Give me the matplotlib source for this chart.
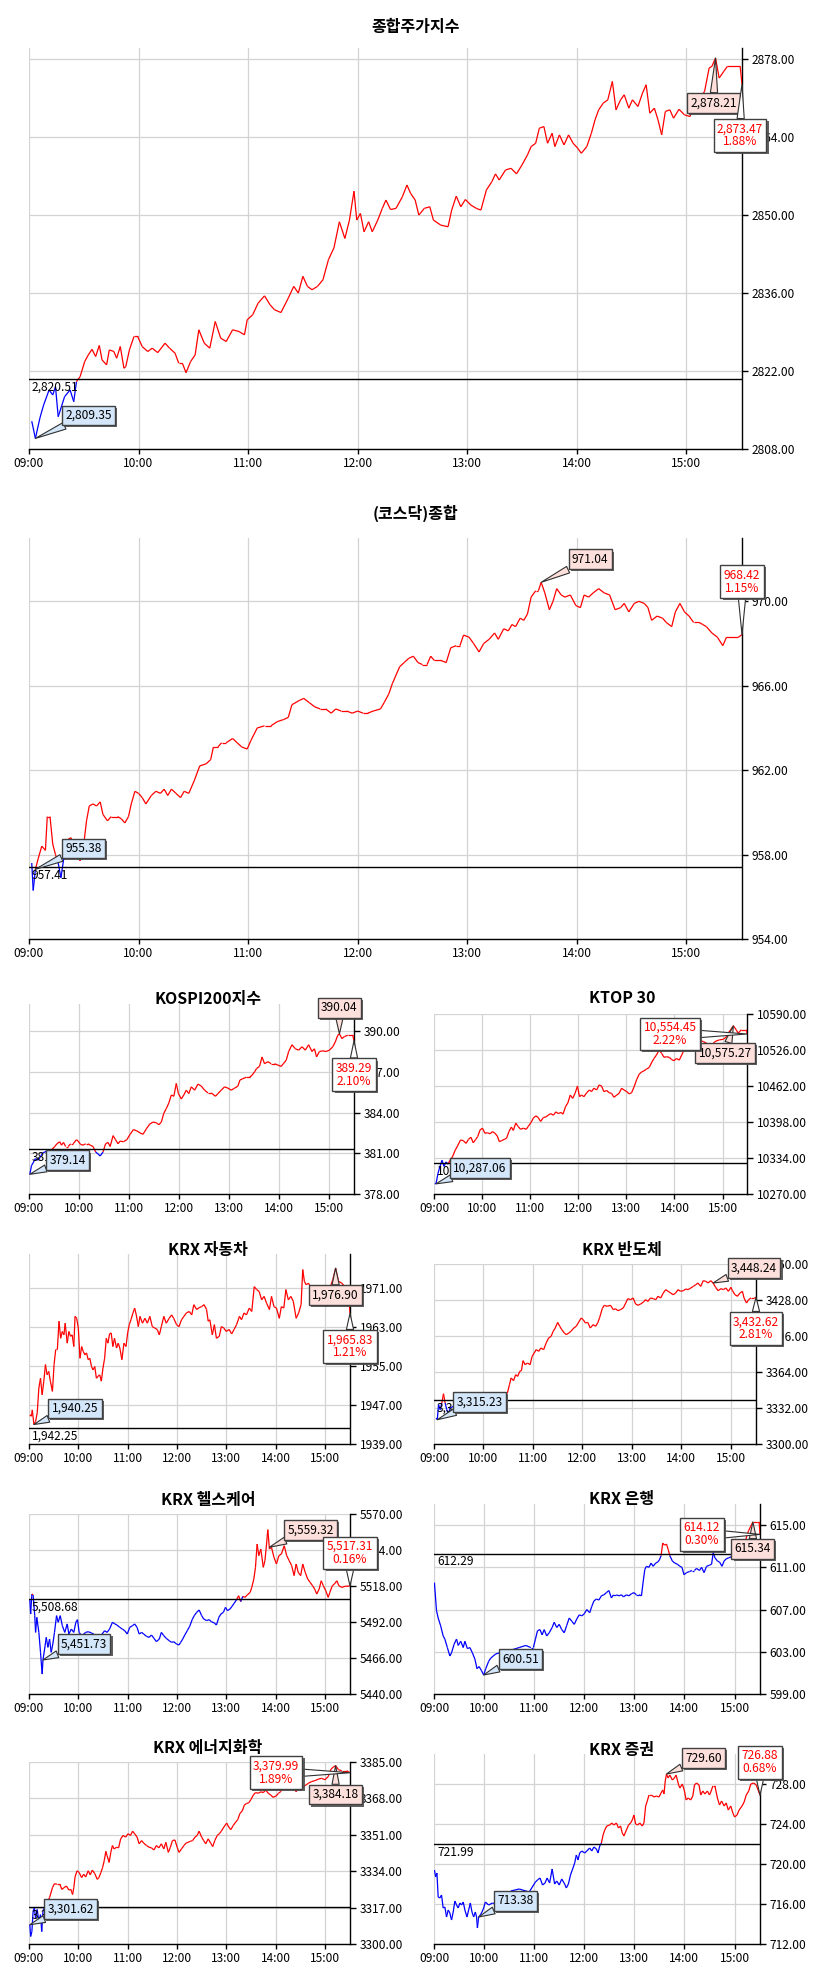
import numpy as np
import matplotlib.pyplot as plt
from matplotlib.collections import LineCollection
from matplotlib import patheffects as pe

plt.rcParams['font.family'] = ['Noto Sans CJK KR', 'DejaVu Sans']

W, H = 833, 1970
HOURS = ['09:00', '10:00', '11:00', '12:00', '13:00', '14:00', '15:00']

# ---- data: (minutes after 09:00, index value) ----
kospi = [(1.5, 2813.0), (3.5, 2809.9), (6, 2813.6), (8, 2815.9), (11, 2818.6), (13, 2817.7),
         (14.5, 2819.2), (16, 2813.8), (19.5, 2817.4), (22.5, 2818.6), (24.5, 2816.5), (26, 2820.1),
         (28, 2821.0), (30.5, 2823.7), (32.5, 2824.9), (34.5, 2825.9), (36.5, 2824.6), (38.5, 2826.6),
         (40, 2824.0), (42.5, 2823.1), (44, 2825.8), (46.5, 2825.5), (48, 2824.3), (50, 2826.4),
         (52, 2822.5), (53, 2822.8), (55, 2825.8), (57.5, 2828.2), (59.5, 2828.2), (62, 2826.4),
         (65, 2825.5), (67.5, 2826.1), (70.5, 2825.3), (74.5, 2827.0), (77, 2826.1), (80, 2825.2),
         (82, 2823.4), (84, 2823.4), (86, 2821.7), (88.5, 2823.7), (91, 2824.9), (93, 2829.4),
         (96, 2827.0), (99, 2826.1), (102, 2830.9), (105, 2827.9), (108, 2827.3), (111.5, 2829.4),
         (115, 2829.1), (118, 2828.5), (119.5, 2831.2), (122.5, 2832.1), (125.5, 2834.2), (129, 2835.5),
         (132, 2833.9), (134.5, 2833.0), (138, 2832.5), (142, 2835.1), (145, 2837.2), (147.5, 2836.0),
         (150, 2839.0), (152.5, 2837.2), (155, 2836.6), (158, 2837.2), (161, 2838.4), (164, 2842.0),
         (167, 2844.1), (170, 2848.8), (173, 2845.8), (175.5, 2849.1), (178, 2854.3), (179.5, 2849.1),
         (181.5, 2850.3), (183.5, 2847.0), (186, 2848.8), (188, 2847.0), (191, 2849.1), (193.5, 2851.2),
         (195.5, 2852.7), (198, 2851.0), (201, 2851.2), (204.5, 2853.3), (207, 2855.4), (209, 2853.9),
         (211.5, 2852.7), (213.5, 2850.0), (216.5, 2851.2), (219.5, 2851.5), (221.5, 2849.1), (225.5, 2848.2),
         (229.5, 2847.9), (231.5, 2850.9), (234, 2853.4), (236.5, 2851.5), (239, 2852.8), (242, 2851.8),
         (245, 2851.2), (247.5, 2850.9), (250.5, 2854.5), (253.5, 2856.0), (255.5, 2857.4), (257.5, 2856.3),
         (261, 2858.1), (264, 2858.4), (267, 2857.4), (270, 2859.0), (273, 2860.8), (275, 2862.3),
         (277.5, 2862.9), (279.5, 2865.6), (282, 2865.9), (284, 2862.9), (286.5, 2864.7), (288, 2862.3),
         (290.5, 2864.4), (293, 2862.6), (295.5, 2864.4), (298, 2862.9), (300.5, 2862.0), (302.5, 2861.1),
         (305.5, 2862.3), (308, 2864.7), (310, 2867.1), (312, 2868.9), (314.5, 2870.1), (317, 2870.7),
         (319.5, 2874.0), (321.5, 2868.9), (324, 2870.7), (326, 2871.6), (328.5, 2869.2), (330.5, 2870.7),
         (333.5, 2869.5), (336, 2871.9), (338, 2873.4), (340, 2868.3), (342.5, 2869.2), (344.5, 2867.1),
         (346.5, 2864.4), (348.5, 2868.6), (351, 2868.9), (353, 2867.4), (356, 2869.0), (359, 2868.0),
         (362, 2867.7), (364, 2869.2), (367, 2870.7), (370, 2872.2), (372.5, 2876.4), (374, 2876.7),
         (376, 2878.2), (378, 2874.6), (380.5, 2875.8), (382.5, 2876.7), (389.5, 2876.7), (390.5, 2873.47)]
kospi_prev = 2820.51
kospi_marks = [(3.5, 2809.9, '2,809.35'), (376, 2878.2, '2,878.21'), (390.5, 2873.47, '2,873.47\n1.88%')]

kosdaq = [(1.5, 957.6), (2.3, 956.3), (3.5, 957.3), (5, 957.8), (7, 958.4), (9, 958.2), (10, 959.8),
          (11.5, 959.8), (13, 958.5), (14.5, 958.0), (16, 957.6), (17.5, 956.9), (19, 957.8), (21, 958.7),
          (23, 958.8), (25.5, 958.2), (28, 957.7), (30, 958.5), (31.5, 959.6), (33, 960.3), (35, 960.4),
          (37, 960.3), (39, 960.5), (40.5, 959.9), (43, 959.6), (45, 959.8), (48.5, 959.8), (50.5, 959.7),
          (52.5, 959.5), (54.5, 959.8), (56, 960.4), (58, 961.0), (60, 960.9), (62, 960.7), (64, 960.4),
          (67, 960.8), (69.5, 961.0), (72, 960.9), (74, 961.1), (76, 960.8), (78, 961.1), (80.5, 960.9),
          (83, 960.7), (85, 961.0), (87.5, 960.9), (90.5, 961.5), (93.5, 962.2), (97, 962.3), (99.5, 962.5),
          (101, 963.1), (103.5, 963.1), (105.5, 963.3), (108, 963.3), (111.5, 963.5), (114, 963.3),
          (116.5, 963.1), (119.5, 963.0), (121.5, 963.4), (125, 964.0), (129, 964.1), (132.5, 964.1),
          (136, 964.3), (139.5, 964.4), (142, 964.5), (144, 965.1), (148, 965.3), (150.5, 965.4),
          (153.5, 965.2), (156.5, 965.0), (159.5, 964.9), (162.5, 964.9), (165.5, 964.7), (168, 964.9),
          (171, 964.8), (174, 964.8), (177, 964.7), (180, 964.8), (183, 964.7), (185.5, 964.7),
          (188.5, 964.8), (192.5, 964.9), (194.5, 965.2), (197, 965.6), (199, 966.1), (201, 966.5),
          (203, 966.9), (205.5, 967.1), (208, 967.3), (210.5, 967.4), (213, 967.1), (215.5, 967.0),
          (218, 967.0), (220, 967.4), (222, 967.2), (225.5, 967.2), (228.5, 967.1), (231, 967.8),
          (234, 967.9), (236, 967.9), (238, 968.4), (241, 968.3), (243.5, 968.0), (246.5, 967.6),
          (249, 968.0), (252, 968.2), (255, 968.5), (257, 968.2), (260, 968.7), (262.5, 968.6),
          (264.5, 968.9), (266.5, 968.8), (269, 969.2), (271, 969.1), (273, 969.4), (275, 970.2),
          (277.5, 970.5), (279, 970.5), (280.5, 970.9), (282.5, 970.4), (285, 969.6), (287, 970.0),
          (289, 970.6), (291.5, 970.3), (293.5, 970.2), (296.5, 970.3), (299.5, 969.8), (302, 969.7),
          (304, 970.3), (306.5, 970.2), (309, 970.4), (312, 970.6), (315, 970.4), (318, 970.3),
          (321, 969.6), (324, 969.7), (326, 969.9), (328.5, 969.5), (331.5, 969.9), (334, 970.0),
          (337, 969.9), (339, 969.7), (341, 969.1), (344, 969.3), (347, 969.2), (349, 969.0),
          (352, 968.8), (354, 969.5), (356.5, 969.9), (359, 969.5), (361.5, 969.3), (364, 969.0),
          (367, 969.0), (369, 968.9), (371, 968.8), (374, 968.5), (377, 968.3), (380, 967.9),
          (382, 968.3), (388.5, 968.3), (390.5, 968.42)]
kosdaq_prev = 957.41
kosdaq_marks = [(3.5, 957.3, '955.38'), (280.5, 970.9, '971.04'), (390.5, 968.42, '968.42\n1.15%')]

k200 = [(1, 379.45), (3, 380.1), (5, 380.3), (7.5, 380.6), (11, 380.5), (13.5, 380.7), (16, 381.0),
        (19, 381.1), (23, 381.2), (27, 381.25), (31, 381.5), (33.5, 381.7), (37, 381.85), (39, 381.6),
        (41.5, 381.8), (44, 381.5), (47, 381.5), (50, 381.7), (53, 381.7), (57, 382.0), (59, 381.9),
        (62, 381.65), (65, 381.6), (68, 381.7), (71, 381.7), (73.5, 381.6), (77, 381.5), (80, 381.1),
        (83, 380.95), (85.5, 380.8), (89, 381.1), (92, 381.7), (95, 381.8), (97.5, 381.5), (101, 382.3),
        (104, 382.0), (107, 381.7), (109.5, 381.9), (113.5, 381.85), (117.5, 382.0), (121.5, 382.4),
        (125.5, 382.75), (129.5, 382.65), (133.5, 382.5), (137, 382.4), (141, 382.8), (145, 383.15),
        (149, 383.3), (153, 383.25), (156, 383.1), (159, 383.3), (162, 383.95), (165, 384.3),
        (168, 384.7), (171, 385.3), (174, 385.2), (177, 386.15), (179.5, 385.4), (183, 385.0),
        (186, 385.3), (189, 385.65), (192, 385.4), (195, 385.9), (199, 385.65), (203, 386.1),
        (207, 385.95), (211, 385.65), (215, 385.45), (219, 385.45), (224, 385.2), (227, 385.4),
        (231, 385.65), (235, 385.9), (239, 385.8), (243, 385.65), (247, 385.8), (251, 385.95),
        (253.5, 386.4), (257, 386.5), (261, 386.6), (265, 386.6), (268, 386.75), (271, 387.0),
        (273.5, 387.25), (277, 387.4), (280, 388.1), (283, 387.6), (287, 387.75), (291, 387.6),
        (295, 387.6), (299, 387.5), (303, 387.4), (305.5, 387.6), (309, 387.85), (312, 388.5),
        (316, 389.0), (320, 388.7), (324, 388.6), (328, 388.85), (332, 388.6), (336, 389.0),
        (340, 388.5), (343, 388.7), (345.5, 388.1), (349, 388.5), (353, 388.55), (357, 388.5),
        (361, 388.6), (365, 388.85), (368, 389.2), (371, 389.7), (373, 389.8), (376, 389.45),
        (379, 389.6), (383, 389.7), (389, 389.7), (390.5, 389.29)]
k200_prev = 381.28
k200_marks = [(1, 379.45, '379.14'), (373, 389.8, '390.04'), (390.5, 389.29, '389.29\n2.10%')]

ktop = [(1, 10289), (2.5, 10288), (5, 10307), (7.5, 10319), (10, 10330), (12.5, 10319), (15, 10327),
        (17.5, 10323), (20, 10330), (23, 10336), (26.5, 10348), (30, 10357), (33, 10366), (36.5, 10365),
        (40, 10360), (43, 10367), (46, 10371), (49, 10361), (52, 10367), (54.5, 10372), (57.5, 10384),
        (60.5, 10387), (63.5, 10378), (66.5, 10379), (70, 10377), (73, 10381), (76, 10378), (79, 10373),
        (81.5, 10363), (84.5, 10365), (87.5, 10367), (90.5, 10369), (93.5, 10381), (96.5, 10389),
        (99, 10383), (102, 10396), (105, 10390), (108, 10385), (111.5, 10387), (115, 10385),
        (117.5, 10390), (121, 10397), (124, 10405), (127, 10409), (130, 10406), (133, 10399),
        (136.5, 10406), (139.5, 10407), (142.5, 10410), (145.5, 10413), (149, 10410), (152, 10416),
        (155, 10413), (158.5, 10415), (161, 10412), (164, 10425), (167, 10432), (170, 10446),
        (173, 10440), (176, 10449), (179, 10462), (181.5, 10443), (184, 10446), (187, 10443),
        (190.5, 10450), (194, 10455), (196.5, 10452), (199.5, 10458), (203, 10455), (206, 10464),
        (209, 10462), (212, 10452), (215.5, 10454), (218.5, 10450), (221.5, 10449), (224.5, 10442),
        (228, 10446), (231, 10449), (234, 10458), (237, 10455), (240.5, 10452), (243.5, 10448),
        (246.5, 10450), (249.5, 10460), (253, 10474), (256, 10483), (259, 10487), (262, 10489),
        (265, 10492), (268.5, 10495), (272, 10505), (274.5, 10511), (277.5, 10517), (281, 10526),
        (284, 10520), (287, 10513), (290, 10514), (293.5, 10513), (296.5, 10509), (299.5, 10507),
        (302.5, 10511), (306, 10508), (309, 10517), (312, 10526), (317, 10535), (323.5, 10541),
        (330, 10544), (336, 10541), (340, 10538), (345, 10532), (350.5, 10541), (356, 10544),
        (361, 10545), (364.5, 10549), (367, 10556), (370, 10562), (373.5, 10569), (377, 10562),
        (379.5, 10556), (383.5, 10562), (390, 10562), (390.5, 10554.45)]
ktop_prev = 10325.24
ktop_marks = [(2.5, 10288, '10,287.06'), (373.5, 10569, '10,575.27'), (390.5, 10554.45, '10,554.45\n2.22%')]

auto = [(1, 1945.0), (3, 1944.7), (4, 1946.0), (6, 1943.0), (8, 1943.6), (10, 1945.4), (12, 1950.5),
        (14, 1952.5), (16, 1949.1), (18, 1951.9), (20, 1955.3), (22, 1953.2), (24, 1953.9), (26, 1951.9),
        (28.5, 1949.8), (30.5, 1955.3), (32.5, 1958.4), (34.5, 1958.4), (36.5, 1964.2), (38.5, 1960.7),
        (40.5, 1962.1), (42.5, 1961.4), (44, 1963.8), (46.5, 1959.7), (48.5, 1962.1), (50.5, 1961.1),
        (52.5, 1961.4), (54.5, 1959.0), (56, 1965.2), (58, 1964.8), (60, 1962.8), (62, 1956.6),
        (64, 1959.0), (66, 1958.0), (68, 1957.3), (70, 1957.7), (72, 1956.3), (74, 1956.6), (76, 1954.9),
        (78, 1954.2), (80, 1954.9), (82, 1952.5), (84, 1952.9), (86, 1953.2), (88, 1951.9), (90, 1954.6),
        (92, 1956.6), (94, 1960.7), (96, 1959.7), (98, 1961.6), (100, 1961.8), (102, 1959.0),
        (104, 1960.7), (106.5, 1958.7), (108.5, 1959.7), (110.5, 1958.7), (113, 1956.3), (115.5, 1959.7),
        (118, 1959.0), (120, 1961.8), (122, 1963.5), (124, 1964.5), (126.5, 1965.9), (128.5, 1966.9),
        (130.5, 1965.5), (133, 1963.1), (135, 1965.2), (138, 1963.8), (141, 1964.8), (144, 1963.8),
        (147, 1965.2), (150, 1963.1), (153, 1962.8), (156, 1962.5), (158.5, 1961.4), (161, 1963.1),
        (164, 1965.2), (167, 1963.8), (170.5, 1964.8), (173.5, 1965.5), (176, 1964.8), (179.5, 1963.5),
        (182.5, 1963.1), (185.5, 1964.5), (188.5, 1965.2), (191.5, 1965.9), (195, 1966.2), (198, 1965.5),
        (200.5, 1967.6), (204, 1966.6), (207, 1967.0), (210, 1967.2), (213, 1967.6), (216, 1966.6),
        (218, 1964.2), (220, 1964.5), (223, 1961.4), (225.5, 1963.5), (228, 1960.7), (231.5, 1961.1),
        (234, 1963.1), (237, 1962.8), (240, 1962.1), (243.5, 1962.5), (246.5, 1961.6), (249.5, 1962.5),
        (252.5, 1963.5), (256, 1965.2), (258.5, 1964.5), (261.5, 1965.9), (264.5, 1965.5), (268, 1966.9),
        (271, 1966.2), (274, 1971.3), (277, 1970.7), (280, 1970.3), (283, 1968.6), (286, 1969.3),
        (289, 1967.9), (292.5, 1966.6), (295, 1969.3), (298, 1967.2), (301, 1966.9), (304.5, 1964.8),
        (307, 1967.2), (310, 1966.9), (312.5, 1970.7), (315.5, 1968.6), (318.5, 1969.3), (321.5, 1968.3),
        (325, 1964.8), (328, 1965.9), (331, 1967.6), (333, 1974.8), (335, 1972.4), (337, 1971.7),
        (340, 1972.0), (346, 1970.3), (352, 1969.6), (358, 1968.9), (362, 1967.2), (366, 1971.0),
        (369.5, 1972.7), (373, 1975.1), (376.5, 1972.4), (380.5, 1972.0), (384.5, 1971.3), (388, 1971.0),
        (390.5, 1965.83)]
auto_prev = 1942.25
auto_marks = [(6, 1943.0, '1,940.25'), (373, 1975.1, '1,976.90'), (390.5, 1965.83, '1,965.83\n1.21%')]

semi = [(2.5, 3323.1), (4, 3321.6), (5.5, 3335.0), (7.5, 3330.5), (9.5, 3336.4), (11.5, 3344.7),
        (13.5, 3336.4), (15.5, 3330.5), (17.5, 3326.1), (19.5, 3332.0), (27.5, 3335.0), (35.5, 3337.9),
        (44, 3339.4), (54, 3338.5), (64, 3337.9), (74, 3339.4), (82, 3344.7), (89, 3345.3), (91.5, 3352.7),
        (93.5, 3358.7), (96.5, 3356.3), (99, 3361.6), (101.5, 3360.1), (104, 3364.6), (106, 3365.2),
        (108, 3374.1), (110.5, 3370.5), (113.5, 3372.0), (116.5, 3370.5), (119, 3377.9), (121.5, 3380.9),
        (124, 3383.9), (127, 3382.4), (129.5, 3385.3), (133, 3383.9), (136, 3389.8), (139, 3394.2),
        (142, 3395.7), (144.5, 3400.1), (147, 3403.1), (150, 3408.1), (152.5, 3404.6), (155, 3401.6),
        (158, 3398.7), (160.5, 3397.2), (163.5, 3398.7), (166, 3400.1), (169.5, 3403.1), (172.5, 3404.6),
        (175.5, 3408.4), (178.5, 3412.0), (181, 3410.5), (183.5, 3407.6), (186.5, 3408.1), (189.5, 3403.1),
        (193, 3406.1), (196, 3404.6), (198.5, 3407.6), (201, 3412.6), (204, 3420.3), (206.5, 3423.3),
        (210, 3422.4), (214, 3423.3), (217.5, 3419.4), (220, 3420.3), (223, 3418.5), (226, 3419.4),
        (229.5, 3420.9), (232.5, 3425.3), (235, 3429.2), (238.5, 3428.3), (241.5, 3429.8), (244.5, 3424.4),
        (247.5, 3423.3), (250.5, 3424.4), (254, 3426.2), (256.5, 3428.3), (259.5, 3426.8), (262.5, 3429.8),
        (266, 3429.2), (269, 3428.3), (271.5, 3431.3), (275, 3429.8), (278, 3434.2), (281, 3437.2),
        (284, 3435.7), (287, 3434.2), (290, 3432.7), (293, 3434.2), (296, 3437.2), (299, 3435.7),
        (302.5, 3436.3), (305.5, 3437.8), (308, 3437.2), (311.5, 3438.7), (314.5, 3440.1), (317.5, 3441.6),
        (320, 3443.1), (323.5, 3440.1), (326.5, 3445.2), (329.5, 3444.6), (332.5, 3443.1), (335.5, 3445.2),
        (338.5, 3443.1), (341.5, 3439.3), (344.5, 3436.3), (348, 3438.1), (351, 3437.2), (354, 3438.7),
        (357, 3435.7), (360, 3439.3), (362, 3436.3), (365, 3432.7), (368, 3431.3), (371, 3434.2),
        (374, 3435.7), (376, 3429.8), (379, 3425.3), (381.5, 3428.3), (384.5, 3429.8), (388.5, 3429.8),
        (390.5, 3430.4)]
semi_prev = 3338.80
semi_marks = [(4, 3321.6, '3,315.23'), (338.5, 3443.1, '3,448.24'), (390.5, 3430.4, '3,432.62\n2.81%')]

health = [(1, 5508.6), (2, 5497.8), (3.5, 5512.2), (5, 5511.5), (7, 5496.6), (8, 5484.5), (9.5, 5495.4),
          (12, 5484.5), (14, 5470.1), (16, 5454.4), (17, 5464.6), (19, 5472.5), (21, 5480.9), (23, 5473.7),
          (25, 5479.7), (27, 5470.1), (29, 5476.1), (31, 5484.5), (33.5, 5496.6), (35.5, 5491.8),
          (38, 5496.6), (40.5, 5489.4), (43.5, 5484.5), (46.5, 5490.6), (48.5, 5483.3), (51.5, 5486.9),
          (54.5, 5484.5), (57, 5491.8), (59, 5493.7), (61, 5484.5), (64, 5482.1), (66.5, 5483.3),
          (69, 5484.5), (72, 5485.0), (76, 5484.1), (82, 5482.1), (88, 5482.6), (92, 5485.7), (95, 5484.5),
          (98, 5486.9), (101.5, 5491.8), (104.5, 5490.6), (107, 5489.8), (110.5, 5488.1), (113.5, 5486.9),
          (116.5, 5485.7), (119.5, 5483.3), (122.5, 5488.1), (126, 5489.4), (128.5, 5490.6), (131.5, 5488.1),
          (134, 5483.3), (137, 5484.5), (139.5, 5483.3), (143, 5481.6), (146, 5480.9), (149, 5482.6),
          (152, 5480.2), (155, 5477.8), (158.5, 5479.7), (161, 5484.5), (164, 5482.1), (167, 5480.2),
          (170.5, 5478.5), (173.5, 5477.3), (176, 5477.8), (179.5, 5476.1), (182.5, 5475.4), (184.5, 5477.3),
          (187, 5479.7), (189.5, 5482.6), (192.5, 5485.7), (195.5, 5488.9), (198.5, 5493.7), (201, 5496.6),
          (204, 5499.0), (207, 5500.7), (210, 5496.6), (212.5, 5494.2), (216, 5493.0), (219, 5493.7),
          (222, 5492.2), (225.5, 5491.3), (228, 5489.8), (231, 5495.4), (233.5, 5497.8), (236.5, 5499.0),
          (239, 5502.6), (241.5, 5500.2), (244.5, 5501.4), (247, 5503.3), (249.5, 5505.5), (252.5, 5508.1),
          (255, 5511.0), (257.5, 5506.7), (260, 5510.5), (262.5, 5509.8), (265.5, 5511.5), (269, 5513.4),
          (271, 5517.0), (273.5, 5523.0), (275.5, 5531.5), (277.5, 5548.3), (279.5, 5539.9), (282, 5544.7),
          (285, 5531.5), (287, 5536.3), (289, 5548.3), (290.5, 5558.7), (292.5, 5544.7), (295, 5545.9),
          (298, 5538.7), (301, 5533.9), (304, 5539.9), (307, 5541.1), (310.5, 5547.1), (313.5, 5539.9),
          (316.5, 5536.3), (319.5, 5532.7), (322.5, 5525.5), (325, 5533.9), (327.5, 5527.9), (330.5, 5525.5),
          (333, 5533.9), (336, 5527.9), (339, 5523.1), (342, 5520.6), (345, 5518.2), (347.5, 5515.8),
          (350, 5512.2), (353, 5515.8), (355.5, 5521.8), (358, 5518.2), (361, 5514.6), (364, 5509.8),
          (366, 5513.4), (369, 5518.2), (371.5, 5519.4), (374.5, 5521.8), (377, 5518.2), (380.5, 5517.0),
          (384.5, 5517.8), (390.5, 5518.0)]
health_prev = 5508.68
health_marks = [(17, 5464.6, '5,451.73'), (292.5, 5546.0, '5,559.32'), (390.5, 5518.0, '5,517.31\n0.16%')]

bank = [(0.5, 609.55), (3, 606.9), (5, 606.2), (8, 605.45), (11, 604.5), (13, 604.2), (16, 603.4),
        (19, 602.6), (21, 602.9), (24, 603.7), (27, 604.2), (29, 603.6), (32, 604.0), (35, 603.4),
        (37, 604.0), (40, 603.3), (43, 603.4), (46, 602.9), (49, 602.3), (51.5, 601.4), (54, 601.6),
        (57, 601.2), (59.5, 600.8), (62, 601.4), (65.5, 602.1), (68, 602.4), (71, 602.6), (74, 602.8),
        (84, 603.0), (94, 603.2), (102, 603.4), (110, 603.6), (116, 603.4), (119, 603.4), (121.5, 604.2),
        (124, 605.0), (127, 605.1), (129.5, 604.6), (132, 605.1), (135, 604.5), (138, 604.8), (141.5, 605.3),
        (144, 605.8), (147, 605.3), (150, 605.6), (153, 605.1), (156, 604.8), (159, 605.5), (162, 606.2),
        (165, 605.9), (168, 605.6), (171, 606.1), (174, 606.5), (177, 606.4), (180, 606.6), (183, 607.0),
        (186.5, 606.7), (189, 607.3), (191.5, 607.8), (194.5, 608.0), (197.5, 607.9), (200.5, 608.3),
        (203.5, 608.4), (206.5, 608.6), (209.5, 608.8), (212.5, 608.1), (215, 608.4), (218.5, 608.4),
        (221.5, 608.3), (224.5, 608.4), (227, 608.2), (230.5, 608.4), (233.5, 608.3), (236.5, 608.5),
        (239.5, 608.6), (242.5, 608.4), (245.5, 608.4), (248.5, 608.3), (250.5, 609.6), (252.5, 610.8),
        (254.5, 611.1), (257.5, 611.0), (260, 611.4), (262.5, 611.1), (265.5, 611.4), (268, 611.5),
        (270, 611.7), (272, 612.1), (274, 613.3), (276, 613.1), (278.5, 613.2), (280.5, 612.7),
        (282.5, 612.1), (285.5, 611.6), (288.5, 611.4), (291.5, 611.3), (294.5, 611.1), (297, 611.0),
        (299.5, 610.3), (302.5, 610.5), (306, 610.6), (309, 610.7), (312, 610.7), (314.5, 610.9),
        (318, 610.7), (320.5, 611.0), (323.5, 610.5), (326.5, 611.1), (330, 611.2), (332.5, 611.3),
        (334.5, 612.4), (336.5, 611.9), (339.5, 611.6), (342, 611.5), (345, 611.1), (347.5, 611.6),
        (350, 611.8), (353, 611.9), (359, 612.1), (365, 612.2), (371, 612.7), (375, 614.1), (377, 614.5),
        (379.5, 614.9), (382, 615.3), (387, 615.3), (389.5, 615.3), (390.5, 614.12)]
bank_prev = 612.29
bank_marks = [(59.5, 600.8, '600.51'), (382, 615.3, '615.34'), (390.5, 614.12, '614.12\n0.30%')]

energy = [(1, 3309.0), (2, 3303.5), (3.5, 3305.8), (5, 3315.3), (6.5, 3316.8), (8, 3312.1), (10, 3316.1),
          (12, 3310.5), (14, 3313.7), (15.5, 3305.8), (17, 3315.3), (21, 3319.2), (25, 3321.6),
          (28.5, 3326.3), (31, 3328.2), (34, 3327.9), (37.5, 3327.9), (40, 3325.5), (42.5, 3326.3),
          (45.5, 3327.1), (48.5, 3325.2), (51, 3325.5), (53, 3323.1), (54.5, 3326.3), (56, 3331.3),
          (58.5, 3334.2), (61, 3333.4), (64, 3331.0), (66.5, 3332.6), (69, 3331.3), (72, 3334.2),
          (74.5, 3332.3), (77, 3334.5), (80, 3332.9), (83, 3330.2), (85, 3331.0), (87.5, 3333.4),
          (89.5, 3335.7), (91.5, 3338.9), (93.5, 3343.3), (95, 3341.2), (97.5, 3338.1), (99.5, 3342.8),
          (101.5, 3346.0), (103.5, 3344.4), (106.5, 3345.2), (109, 3344.9), (111.5, 3349.1), (114.5, 3350.7),
          (117.5, 3349.9), (120.5, 3351.5), (123.5, 3350.7), (126, 3352.7), (128.5, 3351.5), (131.5, 3349.9),
          (134, 3346.8), (137, 3348.3), (139.5, 3347.1), (143, 3346.0), (146, 3345.2), (149, 3344.9),
          (152, 3343.9), (155, 3346.0), (158, 3344.9), (161, 3346.8), (164, 3344.4), (166.5, 3347.5),
          (169.5, 3342.8), (172, 3345.2), (174.5, 3348.3), (177.5, 3348.6), (180.5, 3344.9), (182.5, 3342.8),
          (185.5, 3344.4), (188.5, 3346.0), (191, 3347.1), (193.5, 3347.5), (196.5, 3348.0), (199, 3348.3),
          (202, 3349.9), (204.5, 3350.7), (207, 3352.7), (210, 3349.9), (212.5, 3348.3), (215, 3346.8),
          (218, 3349.1), (221, 3347.1), (223.5, 3345.5), (226, 3348.3), (229, 3350.7), (231.5, 3351.5),
          (234, 3352.7), (237, 3354.6), (240.5, 3356.5), (243, 3354.6), (245.5, 3353.4), (248.5, 3355.4),
          (251.5, 3357.0), (254, 3358.1), (256.5, 3360.9), (259.5, 3362.2), (262, 3364.9), (264.5, 3365.6),
          (267.5, 3366.0), (270, 3367.5), (273, 3369.6), (275.5, 3370.7), (279, 3370.4), (282, 3371.1),
          (285, 3370.7), (288, 3371.9), (291, 3370.4), (294, 3369.6), (297, 3368.5), (300.5, 3369.1),
          (303.5, 3370.4), (306, 3371.1), (309.5, 3373.5), (312.5, 3375.9), (315.5, 3375.1), (318.5, 3374.8),
          (321.5, 3373.5), (325, 3371.1), (327.5, 3372.7), (331, 3371.9), (334, 3373.5), (337, 3374.3),
          (340, 3375.1), (344, 3375.9), (348, 3376.3), (352, 3377.0), (356, 3377.4), (360, 3376.7),
          (364, 3378.2), (367.5, 3381.7), (370, 3382.6), (373, 3383.3), (376.5, 3381.4), (380.5, 3380.9),
          (386.5, 3380.9), (390.5, 3379.99)]
energy_prev = 3317.30
energy_marks = [(1, 3309.0, '3,301.62'), (373, 3383.3, '3,384.18'), (390.5, 3379.99, '3,379.99\n1.89%')]

secu = [(0.5, 719.4), (2, 718.7), (3.5, 719.1), (5, 716.7), (7, 716.6), (9, 716.9), (11, 715.6),
        (13, 715.7), (15, 714.7), (17, 715.4), (19, 715.1), (21, 714.4), (23, 715.2), (25, 716.3),
        (27, 715.9), (29, 715.6), (31, 716.1), (33, 715.9), (35, 716.2), (37, 715.4), (39.5, 714.7),
        (41.5, 715.4), (43.5, 716.1), (45.5, 715.2), (47.5, 714.7), (49.5, 715.2), (51, 714.7),
        (52, 713.6), (53.5, 714.7), (55.5, 714.9), (57.5, 715.2), (59.5, 715.6), (61.5, 716.2),
        (65.5, 715.9), (70, 716.1), (78, 715.9), (84, 715.2), (92, 717.3), (102, 717.5), (114, 717.2),
        (121.5, 718.2), (124, 718.4), (127, 718.6), (130, 717.9), (133, 718.1), (135.5, 718.6),
        (138.5, 718.1), (141.5, 719.5), (144.5, 718.0), (147, 718.3), (150, 717.9), (153, 718.5),
        (156.5, 718.0), (158.5, 717.6), (161, 718.0), (163.5, 718.9), (166.5, 719.6), (168.5, 720.1),
        (170.5, 720.9), (172.5, 720.4), (174.5, 721.1), (177, 721.3), (180.5, 721.1), (183, 721.3),
        (186.5, 721.6), (189, 721.3), (191.5, 721.7), (194.5, 721.5), (196.5, 721.1), (198.5, 721.8),
        (200.5, 722.1), (202.5, 722.9), (204.5, 723.4), (207, 723.8), (210.5, 723.9), (213, 724.1),
        (215.5, 723.9), (218.5, 724.1), (221, 723.6), (223.5, 723.8), (225.5, 723.1), (227.5, 722.8),
        (230.5, 723.4), (233, 723.9), (235.5, 724.1), (237.5, 724.4), (239.5, 724.9), (241.5, 724.0),
        (244, 723.9), (246.5, 724.1), (249.5, 723.8), (251.5, 724.1), (253.5, 725.8), (255.5, 726.3),
        (257.5, 726.9), (260.5, 726.9), (263.5, 726.7), (266.5, 726.8), (269.5, 726.7), (272, 727.1),
        (274, 727.4), (275.5, 727.0), (277, 728.3), (278.5, 729.0), (280.5, 728.6), (282.5, 728.9),
        (285.5, 728.4), (288, 728.6), (290, 728.9), (293, 727.9), (294.5, 727.6), (297.5, 728.0),
        (300, 727.3), (302, 726.4), (304.5, 726.6), (307.5, 726.4), (310, 726.8), (312, 727.9),
        (314.5, 728.1), (317.5, 727.9), (319.5, 726.9), (322, 727.3), (324.5, 727.0), (327.5, 727.3),
        (330, 726.9), (332, 727.3), (334, 727.8), (336.5, 727.8), (339.5, 726.6), (342, 725.9),
        (344.5, 726.3), (347.5, 725.8), (350, 726.1), (352.5, 725.4), (355.5, 725.8), (358, 725.1),
        (360, 724.7), (363, 724.9), (365.5, 725.4), (369, 725.8), (371.5, 726.2), (374, 726.9),
        (377, 727.3), (379.5, 728.0), (383, 728.1), (386, 727.9), (390.5, 726.88)]
secu_prev = 721.99
secu_marks = [(53.5, 714.7, '713.38'), (278.5, 729.0, '729.60'), (390.5, 726.88, '726.88\n0.68%')]

# ---- layout (pixels) ----
fig = plt.figure(figsize=(W / 100, H / 100), dpi=100)
BOX = {'low': ('#d4e7fa', 'black'), 'high': ('#fde0dc', 'black'), 'last': ('white', 'red')}


def panel(title, data, prev, marks, offsets, rect, title_xy, ylim, yticks, prev_label):
    l, t, r, b = rect
    ax = fig.add_axes([l / W, 1 - b / H, (r - l) / W, (b - t) / H])
    x = np.array([p[0] for p in data])
    y = np.array([p[1] for p in data])
    pts = np.column_stack([x, y])
    segs = np.stack([pts[:-1], pts[1:]], axis=1)
    mid = (y[:-1] + y[1:]) / 2
    cols = ['#ff0000' if m >= prev else '#0000ff' for m in mid]
    ax.add_collection(LineCollection(segs, colors=cols, linewidths=0.9, zorder=3))
    ax.axhline(prev, color='black', lw=1, zorder=4)

    ax.set_xlim(0, 390.5)
    ax.set_ylim(*ylim)
    ax.set_xticks(range(0, 361, 60))
    ax.set_xticklabels(HOURS)
    ax.set_yticks(yticks)
    ax.set_yticklabels([f'{v:.2f}' for v in yticks])
    ax.yaxis.tick_right()
    ax.grid(True, color='#d3d3d3', lw=0.9)
    ax.set_axisbelow(True)
    for s in ['left', 'top']:
        ax.spines[s].set_visible(False)
    for s in ['right', 'bottom']:
        ax.spines[s].set_color('black')
        ax.spines[s].set_linewidth(1)
    ax.tick_params(axis='y', length=4, width=1, pad=3, labelsize=8.6, colors='black')
    ax.tick_params(axis='x', length=3.5, width=1, pad=2, labelsize=8.6, colors='black')

    ax.annotate(prev_label, xy=(0, prev), xytext=(3, -8), textcoords='offset pixels',
                ha='left', va='center', fontsize=8.6, zorder=5)

    for (mt, mv, txt), (kind, dx, dy) in zip(marks, offsets):
        fc, tc = BOX[kind]
        ann = ax.annotate(txt, xy=(mt, mv), xytext=(dx, dy), textcoords='offset pixels',
                          ha='center', va='center', fontsize=8.6, color=tc, linespacing=1.0,
                          bbox=dict(boxstyle='square,pad=0.28', fc=fc, ec='#404040', lw=1),
                          arrowprops=dict(arrowstyle='wedge,tail_width=0.6', fc=fc, ec='#303030',
                                          lw=0.8, shrinkA=0, shrinkB=0),
                          annotation_clip=False, zorder=8)
        ann.get_bbox_patch().set_path_effects(
            [pe.SimplePatchShadow(offset=(1.5, -1.5), shadow_rgbFace='#505050', alpha=0.9), pe.Normal()])

    fig.text(title_xy[0] / W, 1 - title_xy[1] / H, title, ha='center', va='center',
             fontsize=11.5, fontweight='bold')
    return ax


panel('종합주가지수', kospi, kospi_prev, kospi_marks,
      [('low', 53, 23), ('high', -2, -45), ('last', -2, -51)],
      (29, 48, 742, 449), (416, 27), (2808, 2880), np.arange(2808, 2879, 14), '2,820.51')
panel('(코스닥)종합', kosdaq, kosdaq_prev, kosdaq_marks,
      [('low', 48, 21), ('high', 49, 23), ('last', 0, 53)],
      (29, 538, 742, 939), (416, 513), (954, 973), np.arange(954, 971, 4), '957.41')
panel('KOSPI200지수', k200, k200_prev, k200_marks,
      [('low', 38, 14), ('high', 0, 26), ('last', 0, -34)],
      (29, 1004, 354, 1194), (208, 999), (378, 392), np.arange(378, 391, 3), '381.28')
panel('KTOP 30', ktop, ktop_prev, ktop_marks,
      [('low', 44, 16), ('high', -8, -27), ('last', -77, 0)],
      (434, 1014, 747, 1194), (622, 998), (10270, 10590), np.arange(10270, 10591, 64), '10,325.24')
panel('KRX 자동차', auto, auto_prev, auto_marks,
      [('low', 41, 16), ('high', 0, -27), ('last', 0, -33)],
      (29, 1254, 350, 1444), (208, 1250), (1939, 1978), np.arange(1939, 1972, 8), '1,942.25')
panel('KRX 반도체', semi, semi_prev, semi_marks,
      [('low', 42, 18), ('high', 41, 15), ('last', 0, -31)],
      (434, 1264, 756, 1444), (622, 1250), (3300, 3460), np.arange(3300, 3461, 32), '3,338.80')
panel('KRX 헬스케어', health, health_prev, health_marks,
      [('low', 41, 16), ('high', 41, 17), ('last', 0, 33)],
      (29, 1514, 350, 1694), (208, 1500), (5440, 5570), np.arange(5440, 5571, 26), '5,508.68')
panel('KRX 은행', bank, bank_prev, bank_marks,
      [('low', 37, 16), ('high', 0, -27), ('last', -58, 0)],
      (434, 1504, 760, 1694), (622, 1499), (599, 617), np.arange(599, 616, 4), '612.29')
panel('KRX 에너지화학', energy, energy_prev, energy_marks,
      [('low', 41, 16), ('high', 0, -29), ('last', -74, 0)],
      (29, 1762, 350, 1944), (208, 1748), (3300, 3385), np.arange(3300, 3386, 17), '3,317.30')
panel('KRX 증권', secu, secu_prev, secu_marks,
      [('low', 37, 16), ('high', 37, 16), ('last', 0, 33)],
      (434, 1754, 760, 1944), (622, 1750), (712, 731), np.arange(712, 729, 4), '721.99')

fig.savefig('out.png', dpi=100)
